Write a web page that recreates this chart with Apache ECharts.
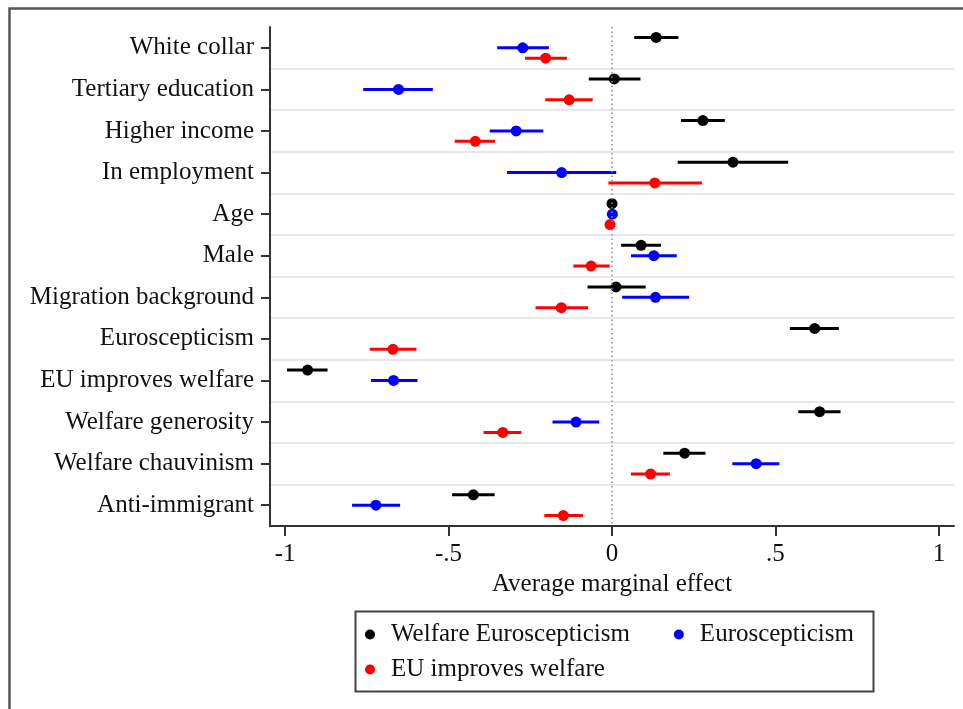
<!DOCTYPE html>
<html>
<head>
<meta charset="utf-8">
<script src="https://cdn.jsdelivr.net/npm/echarts@6/dist/echarts.min.js"></script>
<style>
html,body{margin:0;padding:0;background:#fff;}
#chart{width:963px;height:709px;}
</style>
</head>
<body>
<div id="chart"></div>
<script>
const categories = ['White collar','Tertiary education','Higher income','In employment','Age','Male','Migration background','Euroscepticism','EU improves welfare','Welfare generosity','Welfare chauvinism','Anti-immigrant'];

// [estimate, lower, upper]
const welfareEuroscepticism = [
  [0.135, 0.068, 0.203],
  [0.007, -0.071, 0.087],
  [0.278, 0.211, 0.345],
  [0.370, 0.201, 0.539],
  [0.000, -0.004, 0.004],
  [0.089, 0.028, 0.150],
  [0.012, -0.075, 0.103],
  [0.620, 0.544, 0.694],
  [-0.931, -0.994, -0.870],
  [0.635, 0.570, 0.699],
  [0.222, 0.157, 0.286],
  [-0.424, -0.489, -0.359]
];
const euroscepticism = [
  [-0.273, -0.351, -0.193],
  [-0.653, -0.761, -0.548],
  [-0.293, -0.374, -0.210],
  [-0.154, -0.321, 0.013],
  [0.001, -0.003, 0.005],
  [0.128, 0.058, 0.198],
  [0.133, 0.031, 0.236],
  null,
  [-0.668, -0.737, -0.595],
  [-0.110, -0.182, -0.039],
  [0.441, 0.368, 0.512],
  [-0.722, -0.795, -0.648]
];
const euImprovesWelfare = [
  [-0.203, -0.266, -0.138],
  [-0.131, -0.204, -0.059],
  [-0.418, -0.481, -0.358],
  [0.131, -0.011, 0.275],
  [-0.006, -0.010, -0.002],
  [-0.064, -0.118, -0.007],
  [-0.155, -0.234, -0.073],
  [-0.670, -0.741, -0.598],
  null,
  [-0.334, -0.393, -0.277],
  [0.118, 0.058, 0.177],
  [-0.149, -0.207, -0.089]
];

const xTickValues = [-1, -0.5, 0, 0.5, 1];
const xTickLabels = ['-1', '-.5', '0', '.5', '1'];

const FONT = 'Liberation Serif';
const FS = 25;

function toData(arr){
  const out = [];
  arr.forEach((d, i) => { if (d) out.push([d[0], i, d[1], d[2]]); });
  return out;
}
function makeRender(offset){
  return function(params, api){
    const yi = api.value(1);
    const c = api.coord([api.value(0), yi]);
    const band = api.size([0, 1])[1];
    const y = c[1] + offset * band;
    const lo = api.coord([api.value(2), yi])[0];
    const hi = api.coord([api.value(3), yi])[0];
    const color = api.visual('color');
    return {
      type: 'group',
      children: [
        {type: 'line', shape: {x1: lo, y1: y, x2: hi, y2: y}, style: {stroke: color, lineWidth: 3}},
        {type: 'circle', shape: {cx: c[0], cy: y, r: 5.5}, style: {fill: color}}
      ]
    };
  };
}

const chart = echarts.init(document.getElementById('chart'));
const legendText = {fontFamily: FONT, fontSize: FS, color: '#111', padding: [0, 0, 0, 11]};
chart.setOption({
  backgroundColor: '#fff',
  animation: false,
  grid: {left: 270, right: 9, top: 27, bottom: 183, containLabel: false},
  xAxis: {
    type: 'value', min: -1.046, max: 1.046,
    axisLine: {show: true, onZero: false, lineStyle: {color: '#333', width: 2}},
    axisTick: {show: true, length: 10, customValues: xTickValues, lineStyle: {color: '#333', width: 2}},
    axisLabel: {
      customValues: xTickValues, margin: 16,
      fontFamily: FONT, fontSize: FS, color: '#111',
      formatter: v => { const k = xTickValues.findIndex(t => Math.abs(t - v) < 1e-9); return k >= 0 ? xTickLabels[k] : ''; }
    },
    splitLine: {show: false},
    name: 'Average marginal effect', nameLocation: 'middle', nameGap: 44,
    nameTextStyle: {fontFamily: FONT, fontSize: FS, color: '#111'}
  },
  yAxis: {
    type: 'category', data: categories, inverse: true, boundaryGap: true,
    axisLine: {show: true, onZero: false, lineStyle: {color: '#333', width: 2}},
    axisTick: {show: true, alignWithLabel: true, length: 9, lineStyle: {color: '#333', width: 2}},
    axisLabel: {fontFamily: FONT, fontSize: FS, color: '#111', margin: 16},
    splitLine: {show: true, showMinLine: false, showMaxLine: false, lineStyle: {color: '#e3eaef', width: 2}}
  },
  legend: [
    {data: ['Welfare Euroscepticism', 'Euroscepticism'], left: 365, top: 622, padding: 0,
     icon: 'circle', itemWidth: 10, itemHeight: 10, itemGap: 44, textStyle: legendText},
    {data: ['EU improves welfare'], left: 365, top: 657, padding: 0,
     icon: 'circle', itemWidth: 10, itemHeight: 10, textStyle: legendText}
  ],
  graphic: [
    {type: 'rect', left: 7, top: 6, shape: {x: 0, y: 0, width: 1000, height: 800}, style: {fill: 'none', stroke: '#555', lineWidth: 2.5}, silent: true},
    {type: 'rect', left: 353, top: 609, shape: {x: 0, y: 0, width: 518, height: 80}, style: {fill: 'none', stroke: '#444', lineWidth: 2}, silent: true}
  ],
  series: [
    {name: 'Welfare Euroscepticism', type: 'custom', renderItem: makeRender(-0.25),
     itemStyle: {color: '#000000'}, encode: {x: 0, y: 1}, data: toData(welfareEuroscepticism), z: 3,
     markLine: {silent: true, symbol: 'none', label: {show: false},
       lineStyle: {color: '#8a8a8a', type: [1.5, 3], width: 1.5}, data: [{xAxis: 0}]}},
    {name: 'Euroscepticism', type: 'custom', renderItem: makeRender(0),
     itemStyle: {color: '#0000ff'}, encode: {x: 0, y: 1}, data: toData(euroscepticism), z: 3},
    {name: 'EU improves welfare', type: 'custom', renderItem: makeRender(0.25),
     itemStyle: {color: '#ff0000'}, encode: {x: 0, y: 1}, data: toData(euImprovesWelfare), z: 3}
  ]
});
</script>
</body>
</html>
